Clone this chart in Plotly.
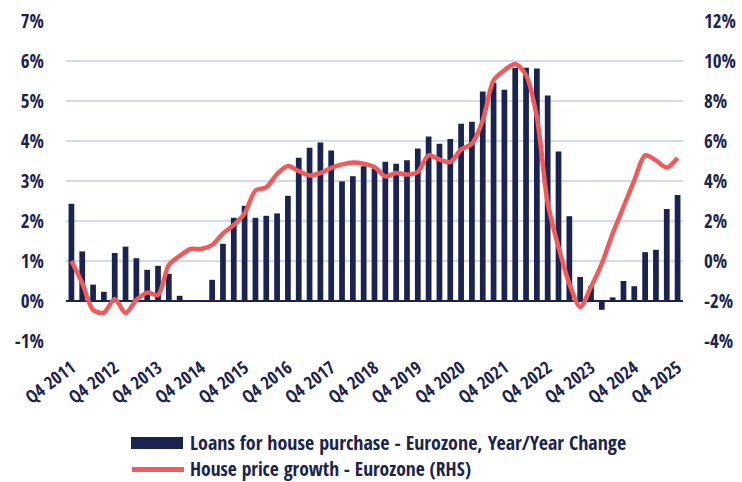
import plotly.graph_objects as go

years = list(range(2011, 2026))
quarters = ["Q4 2011"] + [f"Q{q} {y}" for y in range(2012, 2026) for q in (1, 2, 3, 4)]
tick_labels = [f"Q4 {y}" for y in years]

loans_yoy = [2.43, 1.24, 0.41, 0.23, 1.20, 1.36, 1.07, 0.78, 0.88, 0.68,
             0.13, 0.0, 0.0, 0.53, 1.43, 2.08, 2.38, 2.08, 2.13, 2.19,
             2.63, 3.58, 3.83, 3.96, 3.76, 2.99, 3.12, 3.37, 3.31, 3.48,
             3.43, 3.52, 3.81, 4.11, 3.93, 4.05, 4.43, 4.48, 5.24, 5.45,
             5.28, 5.83, 5.83, 5.81, 5.14, 3.74, 2.12, 0.60, 0.37, -0.22,
             0.09, 0.50, 0.37, 1.22, 1.28, 2.30, 2.65]

house_price = [0.0, -1.1, -2.45, -2.58, -1.9, -2.6, -1.95, -1.58, -1.7, -0.2,
               0.25, 0.6, 0.6, 0.8, 1.38, 1.8, 2.38, 3.52, 3.68, 4.35,
               4.75, 4.5, 4.28, 4.4, 4.65, 4.83, 4.93, 4.87, 4.7, 4.23,
               4.4, 4.32, 4.45, 5.28, 5.07, 4.95, 5.57, 5.87, 7.03, 9.03,
               9.54, 9.85, 9.3, 7.2, 2.9, 0.7, -1.13, -2.3, -1.3, -0.13,
               1.37, 2.7, 4.03, 5.28, 5.03, 4.67, 5.15]

left_ticks = [-1, 0, 1, 2, 3, 4, 5, 6, 7]
right_ticks = [-4, -2, 0, 2, 4, 6, 8, 10, 12]

bar_name = "Loans for house purchase - Eurozone, Year/Year Change"
line_name = "House price growth - Eurozone (RHS)"

NAVY = "#1b2450"
RED = "#f05a5a"
F1 = "Open Sans Condensed, DejaVu Sans Condensed, sans-serif"

# pixel geometry of plot area
L, R, T, B = 66, 59, 21, 141
W, H = 742, 482
PW, PH = W - L - R, H - T - B


def px(x):
    return (x - L) / PW


def py(y):
    return (H - B - y) / PH


fig = go.Figure()
fig.add_trace(go.Bar(
    x=quarters, y=loans_yoy, marker_color=NAVY, marker_line_width=0,
    name=bar_name, yaxis="y", showlegend=False,
))
fig.add_trace(go.Scatter(
    x=quarters, y=house_price, mode="lines",
    line=dict(color=RED, width=4.5, shape="spline", smoothing=0.8),
    name=line_name, yaxis="y2", showlegend=False,
))

# custom legend
fig.add_shape(type="rect", xref="paper", yref="paper",
              x0=px(131), x1=px(183), y0=py(437), y1=py(449),
              fillcolor=NAVY, line_width=0)
fig.add_shape(type="line", xref="paper", yref="paper",
              x0=px(132), x1=px(184), y0=py(469.5), y1=py(469.5),
              line=dict(color=RED, width=5), layer="above")
fig.add_annotation(text=bar_name, xref="paper", yref="paper", x=px(189), y=py(442),
                   xanchor="left", yanchor="middle", showarrow=False, borderpad=0,
                   font=dict(family=F1, size=20, color=NAVY))
fig.add_annotation(text=line_name, xref="paper", yref="paper", x=px(189), y=py(468),
                   xanchor="left", yanchor="middle", showarrow=False, borderpad=0,
                   font=dict(family=F1, size=19.5, color=NAVY))

fig.update_layout(
    width=W, height=H,
    margin=dict(l=L, r=R, t=T, b=B),
    paper_bgcolor="white", plot_bgcolor="white",
    font=dict(family=F1, size=18, color=NAVY),
    bargap=0.47,
    showlegend=False,
    xaxis=dict(type="category", tickmode="array", tickvals=tick_labels,
               ticktext=tick_labels, tickangle=-37, showgrid=False,
               showline=False, ticks="", range=[-0.5, len(quarters) - 0.5],
               automargin=False, ticklabelstandoff=12,
               tickfont=dict(family=F1, size=18, color=NAVY)),
    yaxis=dict(range=[-1, 7], tickvals=left_ticks,
               ticktext=[f"{v}%" for v in left_ticks],
               showgrid=True, gridcolor="#d3d9f0", gridwidth=1.5,
               zeroline=True, zerolinecolor=NAVY, zerolinewidth=2,
               ticks="", ticklabelstandoff=21, automargin=False,
               tickfont=dict(family=F1, size=19, color=NAVY)),
    yaxis2=dict(range=[-4, 12], tickvals=right_ticks,
                ticktext=[f"{v}%" for v in right_ticks],
                overlaying="y", side="right", showgrid=False, zeroline=False,
                ticks="", ticklabelstandoff=20, automargin=False,
                tickfont=dict(family=F1, size=19, color=NAVY)),
)

fig.write_html("out.html", post_script="document.body.style.margin='0';",
               config={"displayModeBar": False})
